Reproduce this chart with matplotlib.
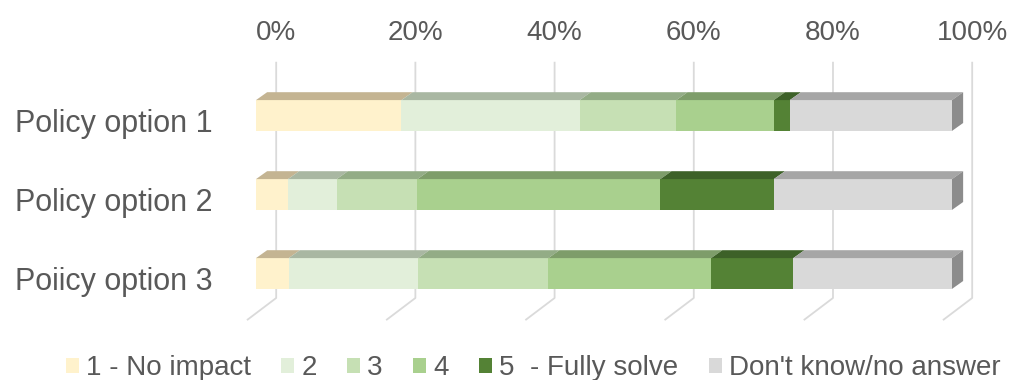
import matplotlib
matplotlib.use("Agg")
import matplotlib.pyplot as plt
from matplotlib.patches import Polygon, Patch
from matplotlib.transforms import ScaledTranslation

plt.rcParams["font.family"] = ["Liberation Sans", "DejaVu Sans"]

# Survey results (% of respondents per rating)
policies = ["Policy option 1", "Policy option 2", "Poiicy option 3"]
ratings = ["1 - No impact", "2", "3", "4", "5  - Fully solve", "Don't know/no answer"]
share_1 = [20.9, 4.6, 4.7]
share_2 = [25.6, 7.0, 18.6]
share_3 = [13.9, 11.6, 18.7]
share_4 = [14.0, 34.9, 23.4]
share_5 = [2.3, 16.3, 11.8]
share_dk = [23.3, 25.6, 22.8]
tick_values = [0, 20, 40, 60, 80, 100]

series = [share_1, share_2, share_3, share_4, share_5, share_dk]
front_colors = ["#FFF2CC", "#E2EFDA", "#C6E0B4", "#A9D08E", "#548235", "#D9D9D9"]
top_colors = ["#C4B492", "#A9B7A2", "#93AC86", "#7E9D6A", "#3D6128", "#A6A6A6"]
side_color = "#8C8C8C"
grid_color = "#DADADA"
text_color = "#595959"

# 3-D look: depth offsets in data units
BAR_H = 0.39
DEPTH_X = 1.6
DEPTH_Y = 0.10
WALL_X = 2.9
FLOOR_X = -1.3
GRID_TOP = -0.68
GRID_FLOOR_BACK = 2.31
GRID_FLOOR_FRONT = 2.59
TICK_Y = -1.04

fig = plt.figure(figsize=(10.1, 3.8), dpi=100)
ax = fig.add_axes([256 / 1010, 0, 696 / 1010, 1])
ax.set_xlim(0, 100)
ax.set_ylim(3.348, -1.462)
for s in ax.spines.values():
    s.set_visible(False)
ax.set_xticks([])

# back-wall gridlines with floor diagonals
for v in tick_values:
    ax.plot([v + WALL_X, v + WALL_X, v + FLOOR_X],
            [GRID_TOP, GRID_FLOOR_BACK, GRID_FLOOR_FRONT],
            color=grid_color, lw=1.3, zorder=1, clip_on=False,
            solid_capstyle="butt")
    ax.text(v + WALL_X, TICK_Y, f"{v}%", ha="center", va="center",
            fontsize=20, color=text_color)

# stacked bars: front face, top face, and right-hand side face
for i in range(len(policies)):
    left = 0.0
    top = i - BAR_H / 2
    bottom = i + BAR_H / 2
    for k, vals in enumerate(series):
        w = vals[i]
        ax.barh(i, w, left=left, height=BAR_H, color=front_colors[k],
                edgecolor="none", zorder=3)
        ax.add_patch(Polygon([(left, top), (left + w, top),
                              (left + w + DEPTH_X, top - DEPTH_Y),
                              (left + DEPTH_X, top - DEPTH_Y)],
                             closed=True, facecolor=top_colors[k],
                             edgecolor="none", zorder=3, clip_on=False))
        left += w
    ax.add_patch(Polygon([(left, top), (left, bottom),
                          (left + DEPTH_X, bottom - DEPTH_Y),
                          (left + DEPTH_X, top - DEPTH_Y)],
                         closed=True, facecolor=side_color,
                         edgecolor="none", zorder=3, clip_on=False))

ax.set_yticks(range(len(policies)))
ax.set_yticklabels(policies, fontsize=22, color=text_color)
ax.tick_params(axis="y", length=0, pad=31)
shift = ScaledTranslation(0, -5 / 100, fig.dpi_scale_trans)
for lbl in ax.get_yticklabels():
    lbl.set_transform(lbl.get_transform() + shift)

handles = [Patch(facecolor=c, edgecolor="none") for c in front_colors]
fig.legend(handles, ratings, loc="center", bbox_to_anchor=(0.528, 12 / 380),
           ncol=6, frameon=False, fontsize=20, labelcolor=text_color,
           handlelength=0.47, handleheight=0.45, handletextpad=0.25,
           columnspacing=1.1, borderpad=0)

fig.savefig("out.png", dpi=100)
